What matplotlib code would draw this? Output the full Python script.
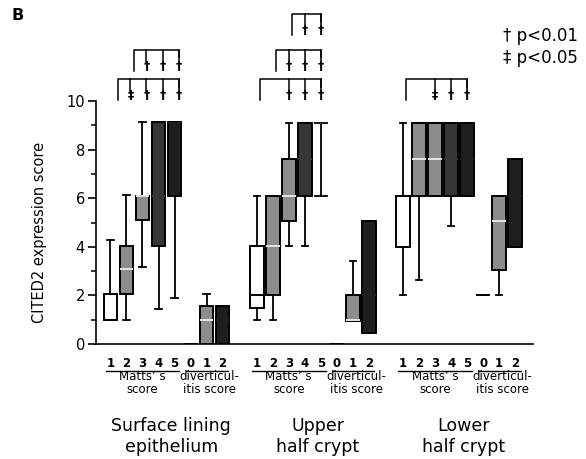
import numpy as np
import matplotlib
matplotlib.use('Agg')
import matplotlib.pyplot as plt
from matplotlib.ticker import MultipleLocator

# box labels under each region: Matts' score 1-5, diverticulitis score 0-2
score_labels = ['1', '2', '3', '4', '5', '0', '1', '2']
region_names = ['Surface lining\nepithelium', 'Upper\nhalf crypt', 'Lower\nhalf crypt']

# surface lining epithelium
surf_lo = [1.0, 1.0, 3.15, 1.45, 1.9, 0.0, 0.0, 0.0]
surf_q1 = [1.0, 2.05, 5.1, 4.05, 6.1, 0.0, 0.0, 0.0]
surf_med = [1.0, 3.1, 6.1, 6.1, 9.1, 0.0, 1.0, 1.0]
surf_q3 = [2.05, 4.05, 6.1, 9.15, 9.15, 0.0, 1.55, 1.55]
surf_hi = [4.3, 6.15, 9.15, 9.15, 9.15, 0.0, 2.05, 1.55]

# upper half crypt
upp_lo = [1.0, 1.0, 4.05, 4.05, 6.1, 0.0, 0.95, 0.47]
upp_q1 = [1.5, 2.02, 5.08, 6.1, 9.1, 0.0, 0.96, 0.47]
upp_med = [2.02, 4.05, 6.1, 7.6, 9.1, 0.0, 1.0, 2.0]
upp_q3 = [4.05, 6.1, 7.6, 9.1, 9.1, 0.0, 2.02, 5.08]
upp_hi = [6.1, 6.1, 9.1, 9.1, 9.1, 0.0, 3.43, 5.08]

# lower half crypt
low_lo = [2.02, 2.64, 6.1, 4.84, 6.1, 2.02, 2.02, 4.0]
low_q1 = [4.0, 6.1, 6.1, 6.1, 6.1, 2.02, 3.05, 4.0]
low_med = [6.1, 7.6, 7.6, 7.6, 7.6, 2.02, 5.07, 6.1]
low_q3 = [6.1, 9.1, 9.1, 9.1, 9.1, 2.02, 6.1, 7.6]
low_hi = [9.1, 9.1, 9.1, 9.1, 9.1, 2.02, 6.1, 7.6]

# significance brackets: region, left box, level, (box, symbol) marks
br_region = [0, 0, 1, 1, 1, 2]
br_left = [0, 1, 0, 1, 2, 0]
br_level = [0, 1, 0, 1, 2, 0]
br_marks = [[(1, '‡'), (2, '†'), (3, '†'), (4, '†')],
            [(2, '†'), (3, '†'), (4, '†')],
            [(2, '†'), (3, '†'), (4, '†')],
            [(2, '†'), (3, '†'), (4, '†')],
            [(3, '†'), (4, '†')],
            [(2, '‡'), (3, '†'), (4, '†')]]

fills = ['white', '#8c8c8c', '#8c8c8c', '#363636', '#1e1e1e', 'white', '#8c8c8c', '#1e1e1e']
med_cols = ['black', '#e6e6e6', '#e6e6e6', '#363636', '#1e1e1e', 'black', '#e6e6e6', '#1e1e1e']

fig = plt.figure(figsize=(5.86, 4.59), dpi=100)
ax = fig.add_axes([0.1638, 0.2505, 0.7458, 0.5295])

step = 9.14
region_stats = [(surf_lo, surf_q1, surf_med, surf_q3, surf_hi),
                (upp_lo, upp_q1, upp_med, upp_q3, upp_hi),
                (low_lo, low_q1, low_med, low_q3, low_hi)]

all_pos = []
for g, (lo, q1, med, q3, hi) in enumerate(region_stats):
    pos = g * step + np.arange(8)
    all_pos.append(pos)
    stats = [dict(whislo=lo[i], q1=q1[i], med=med[i], q3=q3[i], whishi=hi[i], fliers=[])
             for i in range(8)]
    caps = [0.4] * 8
    if g == 1:
        caps[4] = 0.75
    bp = ax.bxp(stats, positions=pos, widths=0.85, patch_artist=True, showfliers=False,
                capwidths=caps,
                boxprops=dict(linewidth=1.4, edgecolor='black'),
                whiskerprops=dict(linewidth=1.3, color='black'),
                capprops=dict(linewidth=1.3, color='black'),
                medianprops=dict(linewidth=1.4))
    for i, b in enumerate(bp['boxes']):
        b.set_facecolor(fills[i])
        bp['medians'][i].set_color(med_cols[i])

    # score labels and underlines
    for i in range(8):
        ax.text(pos[i], -0.8, score_labels[i], ha='center', va='center', fontsize=8.5,
                fontweight='bold')
    ax.plot([pos[0] - 0.3, pos[4] + 0.3], [-1.1, -1.1], color='black', lw=1,
            clip_on=False)
    ax.plot([pos[5] - 0.3, pos[7] + 0.35], [-1.1, -1.1], color='black', lw=1,
            clip_on=False)
    ax.text(pos[:5].mean(), -1.6, 'Matts’ s\nscore', ha='center', va='center',
            fontsize=8.5, linespacing=0.95)
    ax.text(pos[5:].mean() + 0.2, -1.6, 'diverticul-\nitis score', ha='center',
            va='center', fontsize=8.5, linespacing=0.95)
    ax.text(pos.mean() + 0.3, -3.8, region_names[g], ha='center', va='center',
            fontsize=12.5, linespacing=1.2)

# brackets
level_y = [10.89, 12.1, 13.57]
shift = [0.25, 0.0, 0.0]
for r, left, lev, marks in zip(br_region, br_left, br_level, br_marks):
    pos = all_pos[r] + shift[r]
    y = level_y[lev]
    right = marks[-1][0]
    xl = pos[left] + 0.2
    ax.plot([xl, xl, pos[right], pos[right]], [y - 0.85, y, y, y - 0.3],
            color='black', lw=1.1, clip_on=False)
    for idx, sym in marks:
        ax.plot([pos[idx], pos[idx]], [y, y - 0.55], color='black', lw=1.1, clip_on=False)
        ax.text(pos[idx], y - 0.68, sym, ha='center', va='center', fontsize=9,
                fontweight='bold')

ax.set_xlim(-0.906, 26.4)
ax.set_ylim(0, 10)
ax.set_xticks([])
ax.set_yticks([0, 2, 4, 6, 8, 10])
ax.yaxis.set_minor_locator(MultipleLocator(1))
ax.tick_params(axis='y', which='major', length=6, width=1.2, labelsize=10.5, pad=2)
ax.tick_params(axis='y', which='minor', length=3.5, width=1.1)
for s in ['top', 'right']:
    ax.spines[s].set_visible(False)
for s in ['left', 'bottom']:
    ax.spines[s].set_linewidth(1.2)

ax.set_ylabel('CITED2 expression score', fontsize=10.5)
ax.yaxis.set_label_coords(-0.112, 0.46)

fig.text(0.02, 0.967, 'B', fontsize=11.5, fontweight='bold', ha='left', va='center')
fig.text(0.858, 0.921, '† p<0.01', fontsize=12, ha='left', va='center')
fig.text(0.858, 0.874, '‡ p<0.05', fontsize=12, ha='left', va='center')

fig.savefig('out.png', dpi=100)
